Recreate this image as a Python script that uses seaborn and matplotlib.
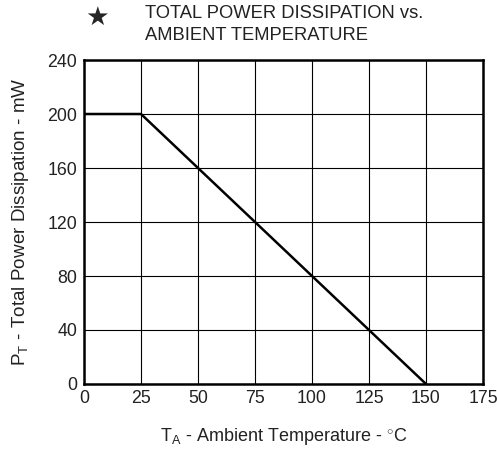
import matplotlib.pyplot as plt
import pandas as pd
import seaborn as sns

# derating curve
temp_c = [0, 25, 150]
power_mw = [200, 200, 0]

x_ticks = [0, 25, 50, 75, 100, 125, 150, 175]
y_ticks = [0, 40, 80, 120, 160, 200, 240]

sns.set_theme(style="white")
plt.rcParams["font.family"] = ["Liberation Sans", "DejaVu Sans"]
plt.rcParams["mathtext.fontset"] = "custom"
plt.rcParams["mathtext.rm"] = "Liberation Sans"

df = pd.DataFrame({"TA": temp_c, "PT": power_mw})

fig = plt.figure(figsize=(4.97, 4.49), dpi=100)
ax = fig.add_axes([84 / 497, 1 - 384 / 449, (483 - 84) / 497, (384 - 60) / 449])

sns.lineplot(data=df, x="TA", y="PT", ax=ax, color="black", linewidth=1.8, zorder=3)

ax.set_xlim(0, 175)
ax.set_ylim(0, 240)
ax.set_xticks(x_ticks)
ax.set_yticks(y_ticks)
ax.grid(True, color="black", linewidth=0.8)
ax.tick_params(axis="both", length=0, labelsize=12.8, colors="#222222")
ax.tick_params(axis="x", pad=4)
ax.tick_params(axis="y", pad=5)
for spine in ax.spines.values():
    spine.set_color("black")
    spine.set_linewidth(1.8)

ax.set_xlabel(r"T$\mathregular{_A}$ - Ambient Temperature - $^{\circ}$C", fontsize=13,
              color="#222222", labelpad=14)
ax.set_ylabel(r"P$\mathregular{_T}$ - Total Power Dissipation - mW", fontsize=13.6,
              color="#222222", labelpad=12)

fig.text(97 / 497, 1 - 18 / 449, "★", fontsize=19, ha="center", va="center",
         family=["DejaVu Sans"])
fig.text(145 / 497, 1 - 14 / 449, "TOTAL POWER DISSIPATION vs.", fontsize=13.2,
         ha="left", va="center", color="#222222")
fig.text(145 / 497, 1 - 35 / 449, "AMBIENT TEMPERATURE", fontsize=13.2,
         ha="left", va="center", color="#222222")

fig.savefig("out.png", dpi=100)
